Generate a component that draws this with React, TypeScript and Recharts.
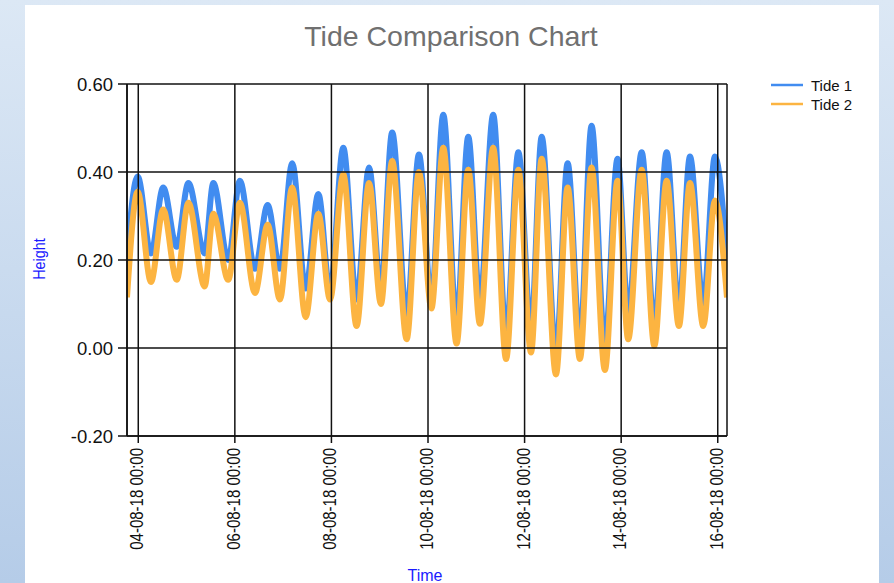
import React from "react";
import { LineChart, Line, XAxis, YAxis, CartesianGrid } from "recharts";

// Hours since 04-08-18 00:00 at each high / low water reading
const hours = [
  -5.6, -0.3, 6.3, 12.4, 19.1, 24.9, 33.0, 37.3, 44.7, 50.5, 58.0, 64.3, 70.4,
  76.5, 83.2, 89.5, 95.3, 101.9, 108.5, 114.7, 120.6, 126.2, 133.4, 139.5, 145.7,
  151.6, 158.2, 164.0, 169.8, 176.4, 182.8, 188.9, 195.2, 200.5, 207.6, 213.4,
  219.5, 225.3, 231.9, 238.2, 243.5, 250.2, 256.5, 262.6, 268.7, 274.2, 280.8,
  286.6, 292.6,
];

const tide1 = [
  0.21, 0.39, 0.215, 0.365, 0.23, 0.375, 0.215, 0.375, 0.2, 0.38, 0.18, 0.325,
  0.18, 0.42, 0.135, 0.35, 0.13, 0.455, 0.11, 0.41, 0.135, 0.49, 0.075, 0.44,
  0.11, 0.53, 0.06, 0.48, 0.105, 0.53, 0.03, 0.445, 0.045, 0.48, -0.01, 0.42,
  0.02, 0.505, 0.01, 0.43, 0.08, 0.445, 0.05, 0.445, 0.09, 0.435, 0.1, 0.435,
  0.2,
];

const tide2 = [
  0.115, 0.355, 0.15, 0.315, 0.155, 0.33, 0.14, 0.305, 0.155, 0.33, 0.125, 0.28,
  0.11, 0.365, 0.07, 0.305, 0.11, 0.395, 0.05, 0.375, 0.1, 0.425, 0.02, 0.4,
  0.09, 0.455, 0.01, 0.405, 0.055, 0.455, -0.025, 0.405, -0.01, 0.43, -0.06, 0.365,
  -0.025, 0.41, -0.05, 0.38, 0.02, 0.405, 0.005, 0.38, 0.05, 0.375, 0.05, 0.335,
  0.115,
];

const xTickHours = [0, 48, 96, 144, 192, 240, 288];
const xTickLabels = [
  "04-08-18 00:00",
  "06-08-18 00:00",
  "08-08-18 00:00",
  "10-08-18 00:00",
  "12-08-18 00:00",
  "14-08-18 00:00",
  "16-08-18 00:00",
];
const yTicks = [-0.2, 0, 0.2, 0.4, 0.6];

const seriesNames = ["Tide 1", "Tide 2"];
const seriesColors = ["#418CF0", "#FCB441"];

const data = hours.map((h, i) => ({ h, tide1: tide1[i], tide2: tide2[i] }));

const FONT = "'Liberation Sans', Arial, sans-serif";

const XTick = (props: any) => {
  const { x, y, payload } = props;
  const idx = xTickHours.indexOf(payload.value);
  const label = idx >= 0 ? xTickLabels[idx] : "";
  return (
    <text
      transform={`translate(${x},${y}) rotate(-90) scale(0.79,1)`}
      textAnchor="end"
      dy={5}
      fontSize={19}
      fontFamily={FONT}
      fill="#111"
    >
      {label}
    </text>
  );
};

export default function App() {
  const gridProps: any = { zIndex: 1000 };
  return (
    <div
      style={{
        position: "absolute",
        left: 0,
        top: 0,
        width: 894,
        height: 583,
        background: "linear-gradient(to bottom, #dce8f5, #b5cce8)",
        overflow: "hidden",
      }}
    >
      <div
        style={{
          position: "absolute",
          left: 25,
          top: 5,
          width: 854,
          height: 578,
          background: "#ffffff",
        }}
      />
      <div style={{ position: "absolute", left: 0, top: 0 }}>
        <LineChart
          width={894}
          height={583}
          data={data}
          margin={{ top: 84, right: 167, bottom: 27, left: 0 }}
        >
          <XAxis
            dataKey="h"
            type="number"
            domain={[-5.6, 292.6]}
            ticks={xTickHours}
            interval={0}
            height={120}
            tickSize={7}
            tickMargin={5}
            tick={<XTick />}
            axisLine={{ stroke: "#111", strokeWidth: 1.5 }}
            tickLine={{ stroke: "#111", strokeWidth: 1.5 }}
            allowDataOverflow
          />
          <YAxis
            type="number"
            domain={[-0.2, 0.6]}
            ticks={yTicks}
            interval={0}
            width={127}
            tickSize={9}
            tickMargin={5}
            tickFormatter={(v: number) => v.toFixed(2)}
            tick={{ fill: "#111", fontSize: 18.5, fontFamily: FONT }}
            axisLine={{ stroke: "#111", strokeWidth: 1.5 }}
            tickLine={{ stroke: "#111", strokeWidth: 1.5 }}
            allowDataOverflow
          />
          <Line
            dataKey="tide1"
            name={seriesNames[0]}
            type="monotone"
            stroke={seriesColors[0]}
            strokeWidth={6}
            dot={false}
            isAnimationActive={false}
          />
          <Line
            dataKey="tide2"
            name={seriesNames[1]}
            type="monotone"
            stroke={seriesColors[1]}
            strokeWidth={6}
            dot={false}
            isAnimationActive={false}
          />
          <CartesianGrid stroke="#111" strokeWidth={1.5} fill="none" {...gridProps} />
        </LineChart>
      </div>
      <svg
        width={894}
        height={583}
        style={{ position: "absolute", left: 0, top: 0, pointerEvents: "none" }}
      >
        <text
          x={451}
          y={46}
          textAnchor="middle"
          fontSize={28.5}
          fontFamily={FONT}
          fill="#707070"
        >
          Tide Comparison Chart
        </text>
        <text
          transform="translate(45,259) rotate(-90) scale(0.9,1)"
          textAnchor="middle"
          fontSize={16}
          fontFamily={FONT}
          fill="#1a1aff"
        >
          Height
        </text>
        <text
          x={425}
          y={581}
          textAnchor="middle"
          fontSize={16}
          fontFamily={FONT}
          fill="#1a1aff"
        >
          Time
        </text>
        {seriesNames.map((name, i) => (
          <g key={name}>
            <line
              x1={771}
              x2={803}
              y1={85 + i * 19}
              y2={85 + i * 19}
              stroke={seriesColors[i]}
              strokeWidth={2.5}
            />
            <text
              x={811}
              y={85 + i * 19 + 5.5}
              fontSize={15}
              fontFamily={FONT}
              fill="#111"
            >
              {name}
            </text>
          </g>
        ))}
      </svg>
    </div>
  );
}
